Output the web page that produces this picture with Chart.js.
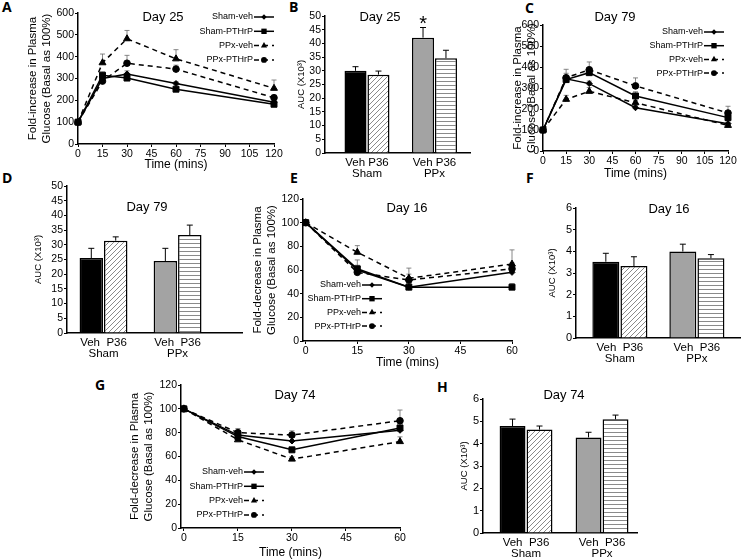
<!DOCTYPE html>
<html>
<head>
<meta charset="utf-8">
<script src="https://cdn.jsdelivr.net/npm/chart.js@4.4.1/dist/chart.umd.min.js"></script>
<style>
  body { margin: 0; width: 745px; height: 560px; background: #fff; position: relative; overflow: hidden; }
  canvas { position: absolute; }
  .tag { position: absolute; font: 700 14px "Open Sans", "Liberation Sans", sans-serif; line-height: 1; color: #000; }
</style>
</head>
<body>
<div class="tag" style="left:2px;top:0px">A</div>
<div class="tag" style="left:289px;top:0px">B</div>
<div class="tag" style="left:525px;top:1px">C</div>
<div class="tag" style="left:2px;top:171px">D</div>
<div class="tag" style="left:290px;top:171px">E</div>
<div class="tag" style="left:526px;top:171px">F</div>
<div class="tag" style="left:95px;top:378px">G</div>
<div class="tag" style="left:437px;top:380px">H</div>
<script>
// ---- data ----
const groupNames = ["Sham-veh", "Sham-PTHrP", "PPx-veh", "PPx-PTHrP"];
const gttTimes = [0, 15, 30, 60, 120];
const ittTimes = [0, 15, 30, 60];
const gttTicks = [0, 15, 30, 45, 60, 75, 90, 105, 120];
const ittTicks = [0, 15, 30, 45, 60];

// A: glucose tolerance, day 25 (% of basal)
const gtt25 = [
  [100, 300, 321, 277, 191],
  [100, 315, 302, 251, 182],
  [100, 372, 482, 390, 255],
  [100, 288, 370, 343, 212],
];
const gtt25Err = [
  [0, 12, 14, 8, 6],
  [0, 15, 10, 8, 6],
  [0, 40, 38, 42, 38],
  [0, 14, 36, 18, 12],
];

// C: glucose tolerance, day 79
const gtt79 = [
  [100, 344, 321, 206, 130],
  [100, 340, 373, 262, 159],
  [100, 246, 284, 230, 122],
  [100, 349, 387, 310, 181],
];
const gtt79Err = [
  [0, 15, 12, 10, 8],
  [0, 30, 20, 20, 12],
  [0, 19, 18, 10, 10],
  [0, 40, 37, 38, 32],
];

// E: insulin tolerance, day 16
const itt16 = [
  [100, 60, 45.5, 58],
  [100, 61, 45.5, 45.5],
  [100, 75, 53, 65],
  [100, 58, 51.5, 61],
];
const itt16Err = [
  [0, 4, 3, 5],
  [0, 7.5, 3, 3],
  [0, 5.6, 8.6, 12],
  [0, 3, 5, 5],
];

// G: insulin tolerance, day 74
const itt74 = [
  [100, 78, 73, 82],
  [100, 76.7, 65.6, 84],
  [100, 74, 57.8, 72.5],
  [100, 80, 78, 90],
];
const itt74Err = [
  [0, 3, 3, 4],
  [0, 3, 2, 4],
  [0, 2, 2, 4],
  [0, 3.5, 3.5, 9],
];

// AUC bars: [Sham, PPx]
const surgery = ["Sham", "PPx"];
const treatments = ["Veh", "P36"];
const auc25Veh = [30.0, 42.1], auc25VehErr = [1.5, 3.7];
const auc25P36 = [28.6, 34.6], auc25P36Err = [1.3, 2.9];
const auc79Veh = [25.5, 24.5], auc79VehErr = [3.3, 4.3];
const auc79P36 = [31.4, 33.3], auc79P36Err = [1.3, 3.4];
const auc16Veh = [3.52, 3.99], auc16VehErr = [0.39, 0.34];
const auc16P36 = [3.32, 3.68], auc16P36Err = [0.43, 0.17];
const auc74Veh = [4.79, 4.28], auc74VehErr = [0.31, 0.23];
const auc74P36 = [4.63, 5.09], auc74P36Err = [0.16, 0.19];

// ---- drawing ----
const FONT = "'Liberation Sans', Arial, sans-serif";
Chart.defaults.font.family = FONT;
Chart.defaults.color = "#000";
Chart.defaults.animation = false;

const seriesStyle = [
  { pointStyle: "rectRot", pointRadius: 3, borderDash: [] },
  { pointStyle: "rect", pointRadius: 4.2, borderDash: [] },
  { pointStyle: "triangle", pointRadius: 4, borderDash: [5, 4] },
  { pointStyle: "circle", pointRadius: 3.3, borderDash: [5, 4] },
];

function hatch(kind) {
  const c = document.createElement("canvas");
  const s = kind === "diag" ? 5 : 4;
  c.width = s; c.height = s;
  const g = c.getContext("2d");
  g.fillStyle = "#fff";
  g.fillRect(0, 0, s, s);
  g.strokeStyle = "#8a8a8a";
  g.lineWidth = 1;
  g.beginPath();
  if (kind === "diag") {
    for (const k of [-s, 0, s]) { g.moveTo(k, s); g.lineTo(k + s, 0); }
  } else {
    g.moveTo(0, 1.5); g.lineTo(s, 1.5);
  }
  g.stroke();
  return g.createPattern(c, "repeat");
}
const diagFill = hatch("diag");
const lineFill = hatch("horiz");

function paintErrors(chart, o) {
  const ctx = chart.ctx, y = chart.scales.y;
  chart.data.datasets.forEach((ds, i) => {
    if (!ds.errors) return;
    chart.getDatasetMeta(i).data.forEach((el, j) => {
      const e = ds.errors[j];
      if (!e) return;
      const top = y.getPixelForValue(ds.data[j] + e);
      ctx.save();
      ctx.strokeStyle = o.color;
      ctx.lineWidth = o.width;
      ctx.beginPath();
      ctx.moveTo(el.x, el.y);
      ctx.lineTo(el.x, top);
      ctx.moveTo(el.x - o.cap, top);
      ctx.lineTo(el.x + o.cap, top);
      ctx.stroke();
      ctx.restore();
    });
  });
}

const errorBars = {
  id: "errorBars",
  beforeDatasetsDraw(chart, args, o) { if (o.layer === "before") paintErrors(chart, o); },
  afterDatasetsDraw(chart, args, o) { if (o.layer === "after") paintErrors(chart, o); },
};

const panelText = {
  id: "panelText",
  afterDraw(chart, args, o) {
    const { ctx, chartArea: a } = chart;
    ctx.save();
    ctx.fillStyle = "#000";
    ctx.textAlign = "center";
    ctx.textBaseline = "middle";
    ctx.font = "13px " + FONT;
    ctx.fillText(o.title, a.left + o.tx, a.top + o.ty);
    if (o.star) {
      const ds = chart.data.datasets[o.star.ds];
      const el = chart.getDatasetMeta(o.star.ds).data[o.star.i];
      const top = chart.scales.y.getPixelForValue(ds.data[o.star.i] + ds.errors[o.star.i]);
      ctx.font = "20px " + FONT;
      ctx.fillText("*", el.x, top - 3);
    }
    ctx.restore();
  },
};

const lineKey = {
  id: "lineKey",
  afterDatasetsDraw(chart, args, o) {
    if (o.x === undefined) return;
    const { ctx, chartArea: a } = chart;
    ctx.save();
    ctx.font = "9px " + FONT;
    ctx.textAlign = "right";
    ctx.textBaseline = "middle";
    chart.data.datasets.forEach((ds, i) => {
      const x = a.left + o.x, y = a.top + o.y + i * o.gap;
      ctx.fillStyle = "#000";
      ctx.fillText(ds.label, x, y);
      ctx.strokeStyle = "#000";
      ctx.lineWidth = 1.5;
      ctx.setLineDash(ds.borderDash);
      ctx.beginPath();
      ctx.moveTo(x + 1, y);
      ctx.lineTo(x + 21, y);
      ctx.stroke();
      ctx.setLineDash([]);
      Chart.helpers.drawPoint(ctx, { pointStyle: ds.pointStyle, radius: ds.pointRadius * 0.9, rotation: 0, borderWidth: 0 }, x + 11, y);
    });
    ctx.restore();
  },
};

function place(box) {
  const c = document.createElement("canvas");
  const w = box.yw + box.R - box.L + box.pr;
  const h = box.pt + box.B - box.T + box.xh;
  c.width = w; c.height = h;
  c.style.left = (box.L - box.yw) + "px";
  c.style.top = (box.T - box.pt) + "px";
  c.style.width = w + "px";
  c.style.height = h + "px";
  document.body.appendChild(c);
  return c;
}

function yAxis(box, max, step, title, tickSize, titleSize) {
  return {
    min: 0, max,
    afterBuildTicks: (s) => {
      const t = [];
      for (let v = 0; v <= max + 1e-9; v += step) t.push({ value: v });
      s.ticks = t;
    },
    ticks: { font: { size: tickSize, lineHeight: 0.9 }, padding: 1, autoSkip: false, autoSkipPadding: 0, source: "ticks" },
    grid: { display: true, drawOnChartArea: false, drawTicks: true, tickLength: 3, color: "#000" },
    border: { display: true, color: "#000", width: 1.5 },
    title: { display: true, text: title, font: { size: titleSize, lineHeight: 1.2 }, padding: 0 },
    afterFit: (s) => { s.width = box.yw; },
  };
}

function lineChart(box, times, ticks, xmin, series, errs, ymax, ystep, ytitle, opt) {
  new Chart(place(box), {
    type: "line",
    data: {
      labels: times,
      datasets: series.map((d, i) => ({
        label: groupNames[i],
        data: d,
        errors: errs[i],
        borderColor: "#000",
        backgroundColor: "#000",
        pointBackgroundColor: "#000",
        pointBorderColor: "#000",
        pointBorderWidth: 1,
        borderWidth: 1.5,
        tension: 0,
        clip: false,
        ...seriesStyle[i],
      })),
    },
    options: {
      responsive: false,
      devicePixelRatio: 1,
      layout: { padding: { top: box.pt, right: box.pr, left: 0, bottom: 0 } },
      scales: {
        x: {
          type: "linear", min: xmin, max: times[times.length - 1],
          afterBuildTicks: (s) => { s.ticks = ticks.map((v) => ({ value: v })); },
          ticks: { font: { size: 10.5 }, padding: 1, maxRotation: 0, autoSkip: false, source: "ticks" },
          grid: { display: true, drawOnChartArea: false, tickLength: 3, color: "#000" },
          border: { display: true, color: "#000", width: 1.5 },
          title: { display: true, text: "Time (mins)", font: { size: 12, lineHeight: 1.2 }, padding: 0 },
          afterFit: (s) => { s.height = box.xh; },
        },
        y: yAxis(box, ymax, ystep, ytitle, 10.5, 11.5),
      },
      plugins: {
        legend: { display: false },
        tooltip: { enabled: false },
        errorBars: { layer: "before", color: "#6a6a6a", width: 0.8, cap: 2.5 },
        panelText: { title: opt.title, tx: opt.tx, ty: opt.ty },
        lineKey: opt.key,
      },
    },
    plugins: [errorBars, panelText, lineKey],
  });
}

function barChart(box, veh, vehErr, p36, p36Err, ymax, ystep, xmin, xmax, cp, sep, opt) {
  const common = { borderColor: "#000", borderWidth: 1.5, barPercentage: 0.96, categoryPercentage: cp };
  new Chart(place(box), {
    type: "bar",
    data: {
      labels: surgery.map((g, i) => i + 1),
      datasets: [
        { label: treatments[0], data: veh, errors: vehErr, backgroundColor: ["#000", "#a3a3a3"], ...common },
        { label: treatments[1], data: p36, errors: p36Err, backgroundColor: [diagFill, lineFill], ...common },
      ],
    },
    options: {
      responsive: false,
      devicePixelRatio: 1,
      layout: { padding: { top: box.pt, right: box.pr, left: 0, bottom: 0 } },
      scales: {
        x: {
          type: "linear", min: xmin, max: xmax, offset: false,
          afterBuildTicks: (s) => { s.ticks = surgery.map((g, i) => ({ value: i + 1 })); },
          ticks: {
            callback: (v) => [treatments.join(sep), surgery[v - 1]],
            font: { size: 11.5, lineHeight: 0.96 }, padding: 4, maxRotation: 0, autoSkip: false, source: "ticks",
          },
          grid: { display: false, drawTicks: false, offset: false },
          border: { display: true, color: "#000", width: 1.5 },
          afterFit: (s) => { s.height = box.xh; },
        },
        y: yAxis(box, ymax, ystep, "AUC (X10³)", opt.tick, 9.5),
      },
      plugins: {
        legend: { display: false },
        tooltip: { enabled: false },
        errorBars: { layer: "after", color: "#000", width: 1, cap: 3 },
        panelText: { title: opt.title, tx: opt.tx, ty: opt.ty, star: opt.star },
      },
    },
    plugins: [errorBars, panelText],
  });
}

const gttTitle = ["Fold-increase in Plasma", "Glucose (Basal as 100%)"];
const ittTitle = ["Fold-decrease in Plasma", "Glucose (Basal as 100%)"];

// A
lineChart({ L: 78, T: 13, R: 274, B: 144, yw: 52, xh: 28, pt: 8, pr: 12 },
  gttTimes, gttTicks, 0, gtt25, gtt25Err, 600, 100, gttTitle,
  { title: "Day 25", tx: 85, ty: 4, key: { x: 175, y: 4, gap: 14.3 } });
// B
barChart({ L: 325, T: 16, R: 470, B: 153, yw: 29, xh: 30, pt: 8, pr: 4 },
  auc25Veh, auc25VehErr, auc25P36, auc25P36Err, 50, 5, 0.378, 2.526, 0.68, " ",
  { title: "Day 25", tx: 55, ty: 1, tick: 10.5, star: { ds: 0, i: 1 } });
// C
lineChart({ L: 543, T: 25, R: 728, B: 151, yw: 32, xh: 30, pt: 20, pr: 12 },
  gttTimes, gttTicks, 0, gtt79, gtt79Err, 600, 100, gttTitle,
  { title: "Day 79", tx: 72, ty: -8, key: { x: 160, y: 7, gap: 13.7 } });
// D
barChart({ L: 67, T: 186, R: 242, B: 333, yw: 34, xh: 30, pt: 8, pr: 4 },
  auc79Veh, auc79VehErr, auc79P36, auc79P36Err, 50, 5, 0.507, 2.87, 0.66, "  ",
  { title: "Day 79", tx: 80, ty: 21, tick: 10.5 });
// E
lineChart({ L: 303, T: 199, R: 512, B: 341, yw: 52, xh: 29, pt: 8, pr: 10 },
  ittTimes, ittTicks, -0.8, itt16, itt16Err, 120, 20, ittTitle,
  { title: "Day 16", tx: 104, ty: 9, key: { x: 58, y: 86, gap: 13.7 } });
// F
barChart({ L: 576, T: 208, R: 740, B: 338, yw: 29, xh: 30, pt: 8, pr: 4 },
  auc16Veh, auc16VehErr, auc16P36, auc16P36Err, 6, 1, 0.43, 2.56, 0.73, "  ",
  { title: "Day 16", tx: 93, ty: 1, tick: 11 });
// G
lineChart({ L: 181, T: 385, R: 400, B: 528, yw: 53, xh: 32, pt: 8, pr: 10 },
  ittTimes, ittTicks, -0.8, itt74, itt74Err, 120, 20, ittTitle,
  { title: "Day 74", tx: 114, ty: 10, key: { x: 62, y: 87, gap: 14.3 } });
// H
barChart({ L: 483, T: 399, R: 637, B: 533, yw: 24, xh: 27, pt: 12, pr: 4 },
  auc74Veh, auc74VehErr, auc74P36, auc74P36Err, 6, 1, 0.434, 2.46, 0.71, "  ",
  { title: "Day 74", tx: 81, ty: -4, tick: 11 });
</script>
</body>
</html>
